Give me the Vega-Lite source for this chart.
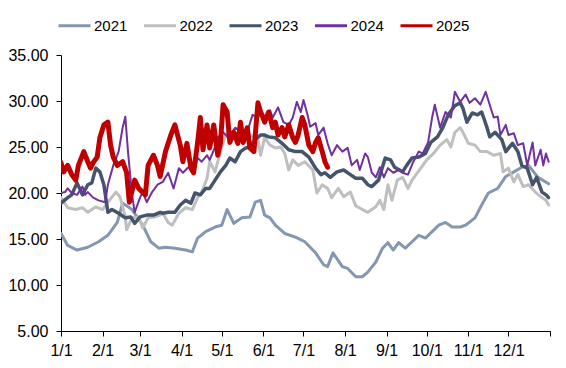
{
  "$schema": "https://vega.github.io/schema/vega-lite/v6.json",
  "width": 489,
  "height": 276,
  "autosize": {"type": "none"},
  "padding": {"left": 61, "top": 55, "right": 16, "bottom": 37},
  "background": "white",
  "config": {
    "view": {"stroke": null},
    "font": "Liberation Sans",
    "axis": {"domainColor": "#000", "tickColor": "#000", "labelColor": "#000", "labelFont": "Liberation Sans", "labelFontSize": 16, "grid": false, "tickSize": 5, "domainWidth": 1, "tickWidth": 1, "title": null},
    "legend": {"labelFont": "Liberation Sans", "labelFontSize": 15, "labelColor": "#000", "padding": 0, "symbolType": "stroke", "symbolSize": 1024, "symbolStrokeWidth": 3, "columnPadding": 9.5, "labelOffset": 2}
  },
  "data": {"values": [
    {"year":"2021","day":0,"value":15.6},{"year":"2021","day":5,"value":14.3},{"year":"2021","day":12,"value":13.8},{"year":"2021","day":20,"value":14.1},{"year":"2021","day":28,"value":14.7},{"year":"2021","day":35,"value":15.4},{"year":"2021","day":42,"value":16.8},{"year":"2021","day":46,"value":18.9},{"year":"2021","day":53,"value":18.2},{"year":"2021","day":61,"value":16.5},{"year":"2021","day":67,"value":14.7},{"year":"2021","day":73,"value":14.0},{"year":"2021","day":78,"value":14.1},{"year":"2021","day":85,"value":14.0},{"year":"2021","day":93,"value":13.8},{"year":"2021","day":98,"value":13.6},{"year":"2021","day":102,"value":15.1},{"year":"2021","day":108,"value":15.8},{"year":"2021","day":115,"value":16.3},{"year":"2021","day":120,"value":16.5},{"year":"2021","day":124,"value":18.2},{"year":"2021","day":129,"value":16.7},{"year":"2021","day":135,"value":17.3},{"year":"2021","day":141,"value":17.4},{"year":"2021","day":145,"value":19.0},{"year":"2021","day":149,"value":19.2},{"year":"2021","day":152,"value":17.6},{"year":"2021","day":156,"value":17.3},{"year":"2021","day":160,"value":16.5},{"year":"2021","day":167,"value":15.6},{"year":"2021","day":175,"value":15.2},{"year":"2021","day":182,"value":14.7},{"year":"2021","day":190,"value":13.5},{"year":"2021","day":196,"value":12.2},{"year":"2021","day":199,"value":12.0},{"year":"2021","day":203,"value":13.5},{"year":"2021","day":210,"value":12.0},{"year":"2021","day":214,"value":11.8},{"year":"2021","day":220,"value":10.9},{"year":"2021","day":225,"value":10.9},{"year":"2021","day":229,"value":11.4},{"year":"2021","day":235,"value":12.5},{"year":"2021","day":240,"value":14.0},{"year":"2021","day":244,"value":14.6},{"year":"2021","day":248,"value":13.8},{"year":"2021","day":252,"value":14.6},{"year":"2021","day":257,"value":14.0},{"year":"2021","day":262,"value":14.7},{"year":"2021","day":267,"value":15.4},{"year":"2021","day":272,"value":15.1},{"year":"2021","day":277,"value":15.8},{"year":"2021","day":282,"value":16.5},{"year":"2021","day":287,"value":16.8},{"year":"2021","day":292,"value":16.3},{"year":"2021","day":298,"value":16.3},{"year":"2021","day":302,"value":16.5},{"year":"2021","day":309,"value":17.3},{"year":"2021","day":314,"value":18.7},{"year":"2021","day":319,"value":20.0},{"year":"2021","day":326,"value":20.5},{"year":"2021","day":332,"value":21.8},{"year":"2021","day":338,"value":22.3},{"year":"2021","day":344,"value":22.8},{"year":"2021","day":349,"value":23.0},{"year":"2021","day":356,"value":21.7},{"year":"2021","day":364,"value":21.0},
    {"year":"2022","day":0,"value":19.5},{"year":"2022","day":5,"value":18.4},{"year":"2022","day":11,"value":18.2},{"year":"2022","day":16,"value":18.4},{"year":"2022","day":20,"value":17.9},{"year":"2022","day":26,"value":18.5},{"year":"2022","day":31,"value":18.2},{"year":"2022","day":35,"value":19.0},{"year":"2022","day":41,"value":20.1},{"year":"2022","day":44,"value":19.6},{"year":"2022","day":48,"value":17.4},{"year":"2022","day":49,"value":16.0},{"year":"2022","day":53,"value":17.3},{"year":"2022","day":58,"value":17.4},{"year":"2022","day":61,"value":16.2},{"year":"2022","day":65,"value":17.3},{"year":"2022","day":70,"value":17.4},{"year":"2022","day":74,"value":17.6},{"year":"2022","day":76,"value":17.8},{"year":"2022","day":80,"value":16.8},{"year":"2022","day":83,"value":16.5},{"year":"2022","day":88,"value":17.8},{"year":"2022","day":93,"value":18.4},{"year":"2022","day":98,"value":18.2},{"year":"2022","day":102,"value":19.5},{"year":"2022","day":105,"value":20.1},{"year":"2022","day":109,"value":21.6},{"year":"2022","day":111,"value":23.4},{"year":"2022","day":115,"value":22.3},{"year":"2022","day":119,"value":24.5},{"year":"2022","day":123,"value":26.3},{"year":"2022","day":126,"value":26.8},{"year":"2022","day":132,"value":26.3},{"year":"2022","day":136,"value":25.4},{"year":"2022","day":141,"value":26.3},{"year":"2022","day":145,"value":26.0},{"year":"2022","day":147,"value":25.8},{"year":"2022","day":149,"value":24.1},{"year":"2022","day":152,"value":26.0},{"year":"2022","day":156,"value":25.2},{"year":"2022","day":160,"value":24.9},{"year":"2022","day":164,"value":25.0},{"year":"2022","day":167,"value":24.3},{"year":"2022","day":170,"value":22.5},{"year":"2022","day":173,"value":23.6},{"year":"2022","day":177,"value":23.0},{"year":"2022","day":182,"value":23.4},{"year":"2022","day":188,"value":22.5},{"year":"2022","day":191,"value":20.0},{"year":"2022","day":195,"value":20.9},{"year":"2022","day":199,"value":20.5},{"year":"2022","day":202,"value":19.5},{"year":"2022","day":207,"value":20.5},{"year":"2022","day":211,"value":19.6},{"year":"2022","day":216,"value":20.1},{"year":"2022","day":220,"value":18.6},{"year":"2022","day":225,"value":18.2},{"year":"2022","day":229,"value":17.9},{"year":"2022","day":235,"value":18.5},{"year":"2022","day":238,"value":19.2},{"year":"2022","day":241,"value":18.2},{"year":"2022","day":244,"value":20.9},{"year":"2022","day":247,"value":19.2},{"year":"2022","day":251,"value":21.4},{"year":"2022","day":255,"value":21.7},{"year":"2022","day":259,"value":20.5},{"year":"2022","day":262,"value":21.4},{"year":"2022","day":266,"value":22.2},{"year":"2022","day":270,"value":23.0},{"year":"2022","day":273,"value":23.6},{"year":"2022","day":278,"value":24.3},{"year":"2022","day":283,"value":25.2},{"year":"2022","day":288,"value":25.8},{"year":"2022","day":291,"value":25.0},{"year":"2022","day":294,"value":26.6},{"year":"2022","day":298,"value":27.1},{"year":"2022","day":300,"value":26.6},{"year":"2022","day":304,"value":25.4},{"year":"2022","day":309,"value":25.2},{"year":"2022","day":313,"value":24.5},{"year":"2022","day":318,"value":24.5},{"year":"2022","day":323,"value":24.1},{"year":"2022","day":328,"value":24.3},{"year":"2022","day":330,"value":22.3},{"year":"2022","day":334,"value":22.7},{"year":"2022","day":338,"value":21.2},{"year":"2022","day":341,"value":22.0},{"year":"2022","day":345,"value":20.7},{"year":"2022","day":349,"value":20.9},{"year":"2022","day":354,"value":20.1},{"year":"2022","day":359,"value":19.5},{"year":"2022","day":362,"value":19.2},{"year":"2022","day":364,"value":18.7},
    {"year":"2023","day":0,"value":18.9},{"year":"2023","day":5,"value":19.5},{"year":"2023","day":8,"value":19.8},{"year":"2023","day":12,"value":21.1},{"year":"2023","day":16,"value":19.8},{"year":"2023","day":20,"value":20.9},{"year":"2023","day":23,"value":21.1},{"year":"2023","day":26,"value":22.7},{"year":"2023","day":29,"value":22.3},{"year":"2023","day":32,"value":20.9},{"year":"2023","day":35,"value":17.9},{"year":"2023","day":38,"value":18.2},{"year":"2023","day":43,"value":17.8},{"year":"2023","day":48,"value":17.3},{"year":"2023","day":52,"value":17.4},{"year":"2023","day":55,"value":16.7},{"year":"2023","day":59,"value":17.4},{"year":"2023","day":64,"value":17.6},{"year":"2023","day":69,"value":17.6},{"year":"2023","day":74,"value":17.9},{"year":"2023","day":76,"value":17.8},{"year":"2023","day":80,"value":17.9},{"year":"2023","day":85,"value":17.9},{"year":"2023","day":89,"value":18.7},{"year":"2023","day":93,"value":19.2},{"year":"2023","day":97,"value":18.9},{"year":"2023","day":100,"value":20.0},{"year":"2023","day":104,"value":19.8},{"year":"2023","day":108,"value":20.5},{"year":"2023","day":111,"value":20.5},{"year":"2023","day":115,"value":21.4},{"year":"2023","day":119,"value":22.3},{"year":"2023","day":123,"value":23.0},{"year":"2023","day":126,"value":23.8},{"year":"2023","day":130,"value":23.4},{"year":"2023","day":134,"value":24.5},{"year":"2023","day":138,"value":24.9},{"year":"2023","day":141,"value":25.0},{"year":"2023","day":145,"value":25.8},{"year":"2023","day":149,"value":26.3},{"year":"2023","day":152,"value":26.3},{"year":"2023","day":155,"value":26.1},{"year":"2023","day":160,"value":26.0},{"year":"2023","day":165,"value":25.4},{"year":"2023","day":170,"value":24.7},{"year":"2023","day":175,"value":24.5},{"year":"2023","day":180,"value":24.5},{"year":"2023","day":185,"value":23.9},{"year":"2023","day":190,"value":22.7},{"year":"2023","day":194,"value":22.0},{"year":"2023","day":197,"value":22.2},{"year":"2023","day":201,"value":21.7},{"year":"2023","day":206,"value":22.3},{"year":"2023","day":211,"value":22.5},{"year":"2023","day":216,"value":22.0},{"year":"2023","day":220,"value":21.6},{"year":"2023","day":225,"value":21.6},{"year":"2023","day":229,"value":20.9},{"year":"2023","day":232,"value":20.7},{"year":"2023","day":237,"value":21.4},{"year":"2023","day":242,"value":23.8},{"year":"2023","day":246,"value":23.6},{"year":"2023","day":249,"value":22.8},{"year":"2023","day":255,"value":22.3},{"year":"2023","day":258,"value":23.0},{"year":"2023","day":262,"value":23.8},{"year":"2023","day":267,"value":23.9},{"year":"2023","day":272,"value":24.3},{"year":"2023","day":276,"value":25.5},{"year":"2023","day":281,"value":26.1},{"year":"2023","day":285,"value":27.1},{"year":"2023","day":289,"value":28.5},{"year":"2023","day":294,"value":29.5},{"year":"2023","day":298,"value":29.8},{"year":"2023","day":300,"value":29.2},{"year":"2023","day":303,"value":27.7},{"year":"2023","day":307,"value":28.7},{"year":"2023","day":311,"value":28.5},{"year":"2023","day":314,"value":28.8},{"year":"2023","day":318,"value":27.1},{"year":"2023","day":320,"value":26.1},{"year":"2023","day":324,"value":26.6},{"year":"2023","day":329,"value":25.8},{"year":"2023","day":332,"value":24.5},{"year":"2023","day":337,"value":25.4},{"year":"2023","day":341,"value":24.5},{"year":"2023","day":344,"value":23.0},{"year":"2023","day":348,"value":22.7},{"year":"2023","day":352,"value":20.9},{"year":"2023","day":355,"value":21.7},{"year":"2023","day":359,"value":20.1},{"year":"2023","day":362,"value":19.8},{"year":"2023","day":364,"value":19.5},
    {"year":"2024","day":0,"value":20.0},{"year":"2024","day":3,"value":20.1},{"year":"2024","day":5,"value":20.5},{"year":"2024","day":8,"value":20.0},{"year":"2024","day":12,"value":19.8},{"year":"2024","day":16,"value":20.7},{"year":"2024","day":18,"value":19.8},{"year":"2024","day":20,"value":20.1},{"year":"2024","day":24,"value":19.5},{"year":"2024","day":28,"value":19.2},{"year":"2024","day":33,"value":19.0},{"year":"2024","day":35,"value":20.9},{"year":"2024","day":39,"value":23.0},{"year":"2024","day":43,"value":24.5},{"year":"2024","day":46,"value":27.1},{"year":"2024","day":48,"value":28.3},{"year":"2024","day":50,"value":24.5},{"year":"2024","day":53,"value":19.8},{"year":"2024","day":55,"value":17.9},{"year":"2024","day":59,"value":19.5},{"year":"2024","day":61,"value":20.1},{"year":"2024","day":64,"value":19.0},{"year":"2024","day":68,"value":20.1},{"year":"2024","day":72,"value":20.9},{"year":"2024","day":76,"value":21.2},{"year":"2024","day":80,"value":22.2},{"year":"2024","day":84,"value":20.5},{"year":"2024","day":88,"value":22.7},{"year":"2024","day":91,"value":22.2},{"year":"2024","day":95,"value":22.8},{"year":"2024","day":99,"value":22.3},{"year":"2024","day":102,"value":23.8},{"year":"2024","day":105,"value":23.4},{"year":"2024","day":109,"value":24.1},{"year":"2024","day":111,"value":23.6},{"year":"2024","day":115,"value":25.0},{"year":"2024","day":117,"value":26.0},{"year":"2024","day":121,"value":26.6},{"year":"2024","day":125,"value":26.0},{"year":"2024","day":130,"value":27.1},{"year":"2024","day":135,"value":26.6},{"year":"2024","day":140,"value":27.1},{"year":"2024","day":143,"value":28.5},{"year":"2024","day":147,"value":28.2},{"year":"2024","day":149,"value":28.8},{"year":"2024","day":152,"value":27.7},{"year":"2024","day":156,"value":29.0},{"year":"2024","day":158,"value":28.2},{"year":"2024","day":162,"value":29.3},{"year":"2024","day":166,"value":27.7},{"year":"2024","day":170,"value":27.4},{"year":"2024","day":173,"value":28.2},{"year":"2024","day":176,"value":29.9},{"year":"2024","day":179,"value":28.8},{"year":"2024","day":181,"value":30.1},{"year":"2024","day":184,"value":28.5},{"year":"2024","day":186,"value":27.2},{"year":"2024","day":190,"value":27.6},{"year":"2024","day":192,"value":26.3},{"year":"2024","day":196,"value":27.1},{"year":"2024","day":199,"value":25.4},{"year":"2024","day":202,"value":24.1},{"year":"2024","day":206,"value":25.2},{"year":"2024","day":210,"value":24.5},{"year":"2024","day":214,"value":24.9},{"year":"2024","day":217,"value":23.0},{"year":"2024","day":221,"value":23.6},{"year":"2024","day":223,"value":22.5},{"year":"2024","day":227,"value":24.3},{"year":"2024","day":229,"value":23.9},{"year":"2024","day":232,"value":22.2},{"year":"2024","day":235,"value":21.7},{"year":"2024","day":238,"value":22.8},{"year":"2024","day":241,"value":21.7},{"year":"2024","day":244,"value":22.7},{"year":"2024","day":248,"value":22.2},{"year":"2024","day":252,"value":22.5},{"year":"2024","day":255,"value":22.2},{"year":"2024","day":259,"value":22.0},{"year":"2024","day":263,"value":23.4},{"year":"2024","day":267,"value":24.5},{"year":"2024","day":270,"value":24.3},{"year":"2024","day":274,"value":25.5},{"year":"2024","day":277,"value":28.2},{"year":"2024","day":279,"value":29.6},{"year":"2024","day":283,"value":27.1},{"year":"2024","day":287,"value":28.8},{"year":"2024","day":291,"value":28.2},{"year":"2024","day":294,"value":31.0},{"year":"2024","day":298,"value":29.9},{"year":"2024","day":302,"value":30.7},{"year":"2024","day":305,"value":29.8},{"year":"2024","day":309,"value":30.3},{"year":"2024","day":313,"value":29.6},{"year":"2024","day":317,"value":31.0},{"year":"2024","day":320,"value":29.6},{"year":"2024","day":323,"value":28.2},{"year":"2024","day":326,"value":28.3},{"year":"2024","day":328,"value":26.3},{"year":"2024","day":332,"value":27.4},{"year":"2024","day":334,"value":26.3},{"year":"2024","day":338,"value":26.5},{"year":"2024","day":341,"value":25.2},{"year":"2024","day":345,"value":25.4},{"year":"2024","day":348,"value":23.0},{"year":"2024","day":352,"value":25.5},{"year":"2024","day":354,"value":23.0},{"year":"2024","day":358,"value":24.7},{"year":"2024","day":360,"value":23.0},{"year":"2024","day":362,"value":24.3},{"year":"2024","day":364,"value":23.4},
    {"year":"2025","day":0,"value":23.3},{"year":"2025","day":2,"value":22.3},{"year":"2025","day":5,"value":23.0},{"year":"2025","day":8,"value":22.0},{"year":"2025","day":11,"value":21.4},{"year":"2025","day":13,"value":23.0},{"year":"2025","day":17,"value":24.5},{"year":"2025","day":20,"value":23.4},{"year":"2025","day":22,"value":22.7},{"year":"2025","day":24,"value":23.3},{"year":"2025","day":27,"value":23.9},{"year":"2025","day":29,"value":26.0},{"year":"2025","day":32,"value":27.4},{"year":"2025","day":35,"value":27.7},{"year":"2025","day":37,"value":25.2},{"year":"2025","day":39,"value":23.9},{"year":"2025","day":42,"value":23.0},{"year":"2025","day":46,"value":23.4},{"year":"2025","day":49,"value":22.2},{"year":"2025","day":51,"value":19.0},{"year":"2025","day":55,"value":21.4},{"year":"2025","day":58,"value":20.5},{"year":"2025","day":63,"value":19.8},{"year":"2025","day":65,"value":23.0},{"year":"2025","day":69,"value":24.1},{"year":"2025","day":72,"value":23.0},{"year":"2025","day":74,"value":21.8},{"year":"2025","day":78,"value":24.5},{"year":"2025","day":82,"value":26.3},{"year":"2025","day":85,"value":27.4},{"year":"2025","day":89,"value":25.2},{"year":"2025","day":91,"value":23.4},{"year":"2025","day":94,"value":25.4},{"year":"2025","day":97,"value":22.7},{"year":"2025","day":99,"value":22.2},{"year":"2025","day":102,"value":25.5},{"year":"2025","day":104,"value":28.2},{"year":"2025","day":106,"value":24.7},{"year":"2025","day":109,"value":27.4},{"year":"2025","day":111,"value":24.9},{"year":"2025","day":114,"value":27.4},{"year":"2025","day":117,"value":24.1},{"year":"2025","day":119,"value":25.4},{"year":"2025","day":121,"value":29.6},{"year":"2025","day":124,"value":28.8},{"year":"2025","day":126,"value":25.5},{"year":"2025","day":129,"value":26.6},{"year":"2025","day":132,"value":25.4},{"year":"2025","day":134,"value":27.7},{"year":"2025","day":136,"value":25.5},{"year":"2025","day":139,"value":27.1},{"year":"2025","day":141,"value":24.9},{"year":"2025","day":144,"value":24.5},{"year":"2025","day":147,"value":29.8},{"year":"2025","day":149,"value":28.8},{"year":"2025","day":150,"value":28.5},{"year":"2025","day":152,"value":27.7},{"year":"2025","day":155,"value":28.8},{"year":"2025","day":158,"value":27.1},{"year":"2025","day":160,"value":27.7},{"year":"2025","day":162,"value":26.3},{"year":"2025","day":165,"value":27.1},{"year":"2025","day":167,"value":26.1},{"year":"2025","day":170,"value":27.4},{"year":"2025","day":173,"value":26.0},{"year":"2025","day":175,"value":25.5},{"year":"2025","day":177,"value":26.3},{"year":"2025","day":180,"value":28.2},{"year":"2025","day":182,"value":27.4},{"year":"2025","day":185,"value":25.2},{"year":"2025","day":188,"value":24.5},{"year":"2025","day":190,"value":25.5},{"year":"2025","day":192,"value":26.0},{"year":"2025","day":195,"value":24.5},{"year":"2025","day":197,"value":23.4},{"year":"2025","day":199,"value":22.8}
  ]},
  "encoding": {
    "x": {"field": "day", "type": "quantitative",
      "scale": {"domain": [0, 365], "nice": false, "zero": false},
      "axis": {"values": [0, 31, 59, 90, 120, 151, 181, 212, 243, 273, 304, 334, 365], "labelExpr": "datum.value >= 365 ? '' : (indexof([0, 31, 59, 90, 120, 151, 181, 212, 243, 273, 304, 334], datum.value) + 1) + '/1'", "labelPadding": 6, "labelOverlap": false, "labelFlush": false}},
    "y": {"field": "value", "type": "quantitative",
      "scale": {"domain": [5, 35], "nice": false, "zero": false},
      "axis": {"values": [5, 10, 15, 20, 25, 30, 35], "format": ".2f", "labelPadding": 8, "labelOverlap": false}},
    "color": {"field": "year", "type": "nominal",
      "scale": {"domain": ["2021", "2022", "2023", "2024", "2025"], "range": ["#8497B0", "#BFBFBF", "#44546A", "#7030A0", "#C00000"]},
      "legend": {"title": null, "orient": "none", "direction": "horizontal", "legendX": -4, "legendY": -47}}
  },
  "layer": [
    {"transform": [{"filter": "datum.year == '2021'"}], "mark": {"type": "line", "strokeWidth": 3, "strokeCap": "round", "strokeJoin": "round", "clip": true}},
    {"transform": [{"filter": "datum.year == '2022'"}], "mark": {"type": "line", "strokeWidth": 3, "strokeCap": "round", "strokeJoin": "round", "clip": true}},
    {"transform": [{"filter": "datum.year == '2023'"}], "mark": {"type": "line", "strokeWidth": 3.5, "strokeCap": "round", "strokeJoin": "round", "clip": true}},
    {"transform": [{"filter": "datum.year == '2024'"}], "mark": {"type": "line", "strokeWidth": 2, "strokeCap": "round", "strokeJoin": "round", "clip": true}},
    {"transform": [{"filter": "datum.year == '2025'"}], "mark": {"type": "line", "strokeWidth": 5, "strokeCap": "round", "strokeJoin": "round", "clip": true}}
  ]
}
